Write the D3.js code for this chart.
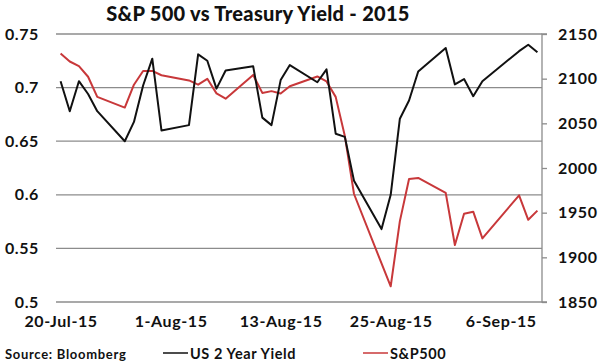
<!DOCTYPE html>
<html><head><meta charset="utf-8">
<script src="https://cdn.jsdelivr.net/npm/d3@7"></script>
<style>
body{margin:0;background:#fff;}
text{font-family:"Lato","DejaVu Sans",sans-serif;}
</style></head><body>
<svg id="c" width="600" height="364"></svg>
<script>
const dates = ["2015-07-20","2015-07-21","2015-07-22","2015-07-23","2015-07-24","2015-07-27","2015-07-28","2015-07-29","2015-07-30","2015-07-31",
"2015-08-03","2015-08-04","2015-08-05","2015-08-06","2015-08-07","2015-08-10","2015-08-11","2015-08-12","2015-08-13","2015-08-14",
"2015-08-17","2015-08-18","2015-08-19","2015-08-20","2015-08-21","2015-08-24","2015-08-25","2015-08-26","2015-08-27","2015-08-28",
"2015-08-31","2015-09-01","2015-09-02","2015-09-03","2015-09-04","2015-09-08","2015-09-09","2015-09-10"];
const yield2y = [0.706,0.678,0.706,0.694,0.678,0.650,0.668,0.702,0.727,0.660,
0.665,0.731,0.725,0.699,0.716,0.720,0.672,0.665,0.707,0.721,
0.705,0.717,0.657,0.654,0.613,0.568,0.600,0.671,0.688,0.715,
0.737,0.703,0.708,0.692,0.706,0.734,0.740,0.733];
const sp500 = [2128.28,2119.21,2114.15,2102.15,2079.65,2067.64,2093.25,2108.57,2108.63,2103.84,
2098.04,2093.32,2099.84,2083.56,2077.57,2104.18,2084.07,2086.05,2083.39,2091.54,
2102.44,2096.92,2079.61,2035.73,1970.89,1893.21,1867.61,1940.51,1987.66,1988.87,
1972.18,1913.85,1948.86,1951.13,1921.22,1969.41,1942.04,1952.29];
const xTickDates = ["2015-07-20","2015-08-01","2015-08-13","2015-08-25","2015-09-06"];
const leftTicks = [0.5,0.55,0.6,0.65,0.7,0.75];
const rightTicks = [1850,1900,1950,2000,2050,2100,2150];
const title = "S&P 500 vs Treasury Yield - 2015";
const seriesNames = ["US 2 Year Yield","S&P500"];
const source = "Source: Bloomberg";

const parse = d3.utcParse("%Y-%m-%d");
const svg = d3.select("#c");
const L=56, R=542, T=34, B=302;
const half = 12*3600*1000;
const x = d3.scaleUtc().domain([new Date(parse(dates[0]).getTime()-half), new Date(parse(dates[dates.length-1]).getTime()+half)]).range([L,R]);
const yl = d3.scaleLinear().domain([0.5,0.75]).range([B,T]);
const yr = d3.scaleLinear().domain([1850,2150]).range([B,T]);

// gridlines
svg.append("g").selectAll("line").data(leftTicks).join("line")
  .attr("x1",L).attr("x2",R).attr("y1",d=>yl(d)).attr("y2",d=>yl(d))
  .attr("stroke","#8c8c8c").attr("stroke-width",1.3);

const styleTxt = sel => sel.attr("font-size",16).attr("font-weight","bold").attr("fill","#111")
  .attr("font-family","Lato, sans-serif").attr("letter-spacing","0.6px");

// left axis labels
const fmtL = d=>d3.format("")(+d.toFixed(2));
svg.append("g").attr("transform",`translate(${L},0)`)
  .call(d3.axisLeft(yl).tickValues(leftTicks).tickSize(0).tickPadding(17).tickFormat(fmtL))
  .call(g=>g.select(".domain").remove())
  .selectAll("text").call(styleTxt);

// right axis
svg.append("g").attr("transform",`translate(${R},0)`)
  .call(d3.axisRight(yr).tickValues(rightTicks).tickSize(5).tickPadding(11).tickFormat(d3.format("d")))
  .call(g=>g.select(".domain").attr("stroke","#8c8c8c").attr("stroke-width",1.3).attr("d",`M5,${T}H0V${B}H5`))
  .call(g=>g.selectAll(".tick line").attr("stroke","#8c8c8c").attr("stroke-width",1.3))
  .selectAll("text").call(styleTxt);

// x axis labels
const fmtX = d3.utcFormat("%-d-%b-%y");
svg.append("g").attr("transform",`translate(0,${B})`)
  .call(d3.axisBottom(x).tickValues(xTickDates.map(parse)).tickSize(0).tickPadding(14).tickFormat(fmtX))
  .call(g=>g.select(".domain").remove())
  .selectAll("text").call(styleTxt);

// lines
const data = dates.map((d,i)=>({d:parse(d),y:yield2y[i],s:sp500[i]}));
svg.append("path").datum(data).attr("fill","none").attr("stroke","#c8383a").attr("stroke-width",2)
  .attr("stroke-linejoin","round")
  .attr("d",d3.line().x(d=>x(d.d)).y(d=>yr(d.s)));
svg.append("path").datum(data).attr("fill","none").attr("stroke","#111").attr("stroke-width",2)
  .attr("stroke-linejoin","round")
  .attr("d",d3.line().x(d=>x(d.d)).y(d=>yl(d.y)));

// title
svg.append("text").attr("x",258).attr("y",21).attr("text-anchor","middle")
  .attr("font-size",20).attr("font-weight","900").attr("fill","#111").attr("letter-spacing","0.3px").text(title);

// source + legend
svg.append("text").attr("x",5).attr("y",359).attr("font-size",13).attr("font-weight","bold").attr("fill","#111")
  .attr("letter-spacing","0.7px").text(source);
const leg = [{x:163,c:"#111"},{x:363,c:"#c8383a"}];
leg.forEach((l,i)=>{
  svg.append("line").attr("x1",l.x).attr("x2",l.x+25).attr("y1",353).attr("y2",353).attr("stroke",l.c).attr("stroke-width",1.5);
  svg.append("text").attr("x",l.x+27).attr("y",359).attr("font-size",14.5).attr("font-weight","bold").attr("fill","#111")
    .attr("letter-spacing","0.6px").text(seriesNames[i]);
});
</script></body></html>
